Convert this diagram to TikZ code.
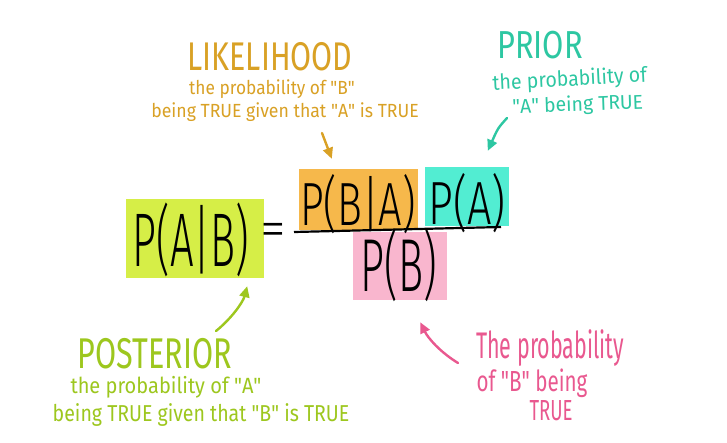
\documentclass[tikz,border=0pt]{standalone}
\usepackage{fontspec}
\setmainfont{Fira Sans}[UprightFont={* Light}]
\newfontfamily\inkfont{Fira Sans}
\usepackage{tikz}
\usetikzlibrary{arrows.meta,calc}
\definecolor{boxlime}{HTML}{D6EE47}
\definecolor{boxorange}{HTML}{F6B84B}
\definecolor{boxcyan}{HTML}{52EDD2}
\definecolor{boxpink}{HTML}{F9B6CE}
\definecolor{inkgold}{HTML}{D9A125}
\definecolor{inkteal}{HTML}{2DC7A2}
\definecolor{inklime}{HTML}{9DC71E}
\definecolor{inkpink}{HTML}{E9588F}
\newcommand{\quoted}[1]{\textquotedbl#1\textquotedbl}

\begin{document}
\begin{tikzpicture}[x=1pt, y=-1pt,
  hand/.style 2 args={font=\fontsize{#1}{#1}\selectfont, xscale=#2, inner sep=0pt, anchor=base, transform shape},
  note/.style 2 args={font=\inkfont\fontsize{#1}{#1}\selectfont, xscale=#2, inner sep=0pt, anchor=base, transform shape},
  sticky/.style={inner sep=0pt, minimum width=#1},
  pointer/.style={-{Triangle[length=11pt,width=10pt]}, line width=2.4pt, line cap=round}]
\useasboundingbox[fill=white] (0,0) rectangle (727,442);
% coloured boxes
\node[sticky=138pt, minimum height=79pt, fill=boxlime] (postBox) at (195,238.5) {};
\node[sticky=119pt, minimum height=61pt, fill=boxorange] (likeBox) at (358.5,199.5) {};
\node[sticky=84pt, minimum height=59pt, fill=boxcyan] (priorBox) at (467,196.5) {};
\node[sticky=94pt, minimum height=68pt, fill=boxpink] (evidBox) at (400,266) {};
% formula
\node[hand={76}{0.55}] (pAB) at (191,266) {P(A|B)};
\node[hand={52}{1.0}, anchor=center] (eqSign) at (273,234.5) {=};
\node[hand={61}{0.68}] (pBA) at (358,225) {P(B|A)};
\node[hand={61}{0.71}] (pA) at (467,224) {P(A)};
\node[hand={75}{0.56}] (pB) at (399,291) {P(B)};
\draw[line width=2.2pt] (294,232) -- (501,227);
% likelihood
\node[note={40}{0.76}, text=inkgold] (likeTitle) at (270,70) {LIKELIHOOD};
\node[note={19}{0.91}, text=inkgold] (likeA) at (272,94) {the probability of \quoted{B}};
\node[note={19}{0.93}, text=inkgold] (likeB) at (285,117) {being TRUE given that \quoted{A} is TRUE};
% prior
\node[note={39}{0.79}, text=inkteal] (priorTitle) at (540,58) {PRIOR};
\node[note={21}{0.93}, text=inkteal, rotate=3] (priorA) at (570,86) {the probability of};
\node[note={20}{0.97}, text=inkteal, rotate=2] (priorB) at (578,111) {\quoted{A} being TRUE};
% posterior
\node[note={43}{0.71}, text=inklime] (postTitle) at (155,368) {POSTERIOR};
\node[note={22}{0.91}, text=inklime] (postA) at (166,393) {the probability of \quoted{A}};
\node[note={23}{0.85}, text=inklime] (postB) at (201,421) {being TRUE given that \quoted{B} is TRUE};
% evidence
\node[note={37}{0.58}, text=inkpink] (evidA) at (550,358) {The probability};
\node[note={29}{0.71}, text=inkpink] (evidB) at (532,391) {of \quoted{B} being};
\node[note={29}{0.64}, text=inkpink] (evidC) at (551,420) {TRUE};
% arrows
\coordinate (likeTail) at (322,133);
\coordinate (likeTip) at ($(likeBox.north west)+(33,-10)$);
\coordinate (priorTail) at (507,118);
\coordinate (priorTip) at ($(priorBox.north west)+(63,-16)$);
\coordinate (postTail) at (216,331);
\coordinate (postTip) at ($(postBox.south east)+(-17,8)$);
\coordinate (evidTail) at (458,363);
\coordinate (evidTip) at ($(evidBox.south east)+(-27,22)$);
\draw[pointer, inkgold] (likeTail) -- (likeTip);
\draw[pointer, inkteal] (priorTail) .. controls (498,128) .. (priorTip);
\draw[pointer, inklime] (postTail) .. controls (232,318) and (243,302) .. (postTip);
\draw[pointer, inkpink] (evidTail) .. controls (440,352) and (428,338) .. (evidTip);
\end{tikzpicture}
\end{document}
